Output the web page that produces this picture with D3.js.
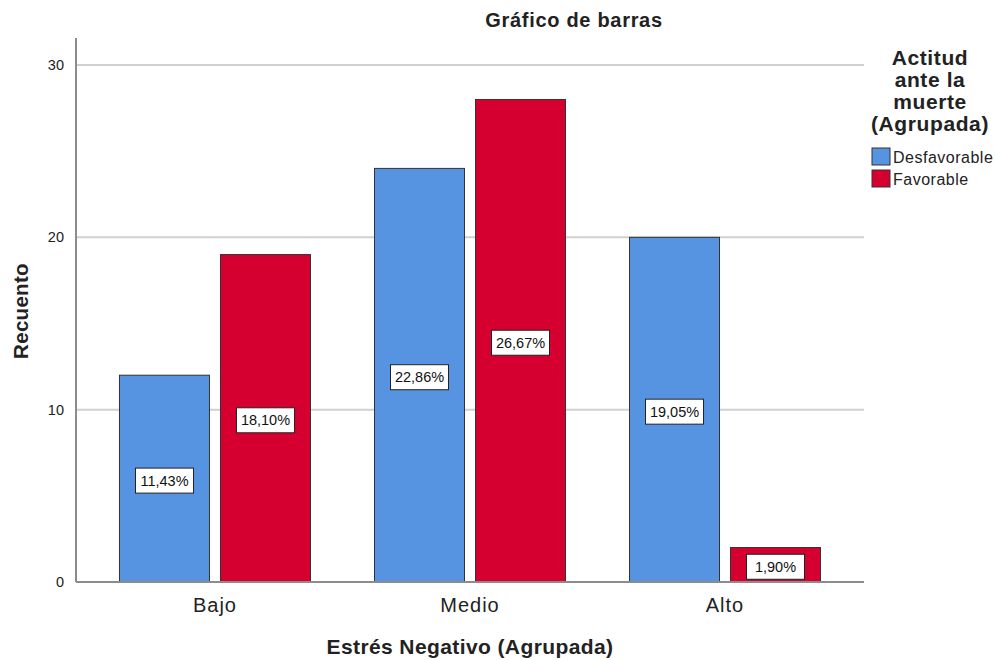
<!DOCTYPE html>
<html>
<head>
<meta charset="utf-8">
<script src="https://cdn.jsdelivr.net/npm/d3@7"></script>
<style>
  body { margin: 0; background: #fff; }
  svg { font-family: "Liberation Sans", Arial, sans-serif; }
</style>
</head>
<body>
<svg width="995" height="660"></svg>
<script>
// data
const categories = ['Bajo', 'Medio', 'Alto']
const groups = ['Desfavorable', 'Favorable']
const desfavorable = [12, 24, 20]
const favorable = [19, 28, 2]
const pctDesfavorable = ['11,43%', '22,86%', '19,05%']
const pctFavorable = ['18,10%', '26,67%', '1,90%']
const yTicks = [0, 10, 20, 30]

const colors = { Desfavorable: '#5694e2', Favorable: '#d5002f' }

const svg = d3.select('svg')
const plotLeft = 76, plotRight = 864, plotTop = 38, plotBottom = 582

const x = d3.scalePoint().domain(categories).range([plotLeft, plotRight]).padding(0.545)
const xs = d3.scaleBand().domain(groups).range([-95.5, 95.5]).paddingInner(0.109)
const y = d3.scaleLinear().domain([0, 30]).range([plotBottom, 65])

const rows = []
categories.forEach((c, i) => {
    rows.push({ cat: c, grp: 'Desfavorable', v: desfavorable[i], pct: pctDesfavorable[i] })
    rows.push({ cat: c, grp: 'Favorable', v: favorable[i], pct: pctFavorable[i] })
})

// grid lines
svg.append('g')
    .selectAll('line')
    .data(yTicks.filter(d => d > 0))
    .enter().append('line')
    .attr('x1', plotLeft).attr('x2', plotRight)
    .attr('y1', d => y(d)).attr('y2', d => y(d))
    .attr('stroke', '#d0d0d0').attr('stroke-width', 2)

// y axis
const yAxis = svg.append('g')
    .attr('transform', `translate(${plotLeft},0)`)
    .call(d3.axisLeft(y).tickValues(yTicks).tickSize(0).tickPadding(12))
yAxis.select('.domain').remove()
yAxis.selectAll('text').attr('font-size', 14.5).attr('fill', '#222').attr('font-family', 'Liberation Sans')
svg.append('line')
    .attr('x1', plotLeft).attr('x2', plotLeft).attr('y1', plotTop).attr('y2', plotBottom)
    .attr('stroke', '#8c8c8c').attr('stroke-width', 2)

// bars
svg.append('g')
    .selectAll('rect')
    .data(rows)
    .enter().append('rect')
    .attr('x', d => x(d.cat) + xs(d.grp))
    .attr('y', d => y(d.v))
    .attr('width', xs.bandwidth())
    .attr('height', d => y(0) - y(d.v))
    .attr('fill', d => colors[d.grp])
    .attr('stroke', '#333')
    .attr('stroke-width', 1)

// x axis line
svg.append('line')
    .attr('x1', plotLeft).attr('x2', plotRight).attr('y1', plotBottom).attr('y2', plotBottom)
    .attr('stroke', '#8c8c8c').attr('stroke-width', 2)

// percentage labels
const lab = svg.append('g')
    .selectAll('g')
    .data(rows)
    .enter().append('g')
    .attr('transform', d => `translate(${x(d.cat) + xs(d.grp) + xs.bandwidth() / 2},${y(d.v / 2) + 2})`)
lab.append('rect')
    .attr('x', -29).attr('y', -12.5).attr('width', 58).attr('height', 25)
    .attr('fill', '#fff').attr('stroke', '#222').attr('stroke-width', 1)
lab.append('text')
    .attr('text-anchor', 'middle').attr('dy', '0.35em')
    .attr('font-size', 14.5).attr('fill', '#111')
    .text(d => d.pct)

// category labels
svg.append('g')
    .selectAll('text')
    .data(categories)
    .enter().append('text')
    .attr('x', d => x(d)).attr('y', 612)
    .attr('text-anchor', 'middle').attr('font-size', 20).attr('letter-spacing', 1).attr('fill', '#222')
    .text(d => d)

// titles
svg.append('text')
    .attr('x', 574).attr('y', 27)
    .attr('text-anchor', 'middle').attr('font-size', 20).attr('letter-spacing', 0.7)
    .attr('font-weight', 'bold').attr('fill', '#222')
    .text('Gráfico de barras')
svg.append('text')
    .attr('x', 470).attr('y', 654)
    .attr('text-anchor', 'middle').attr('font-size', 21).attr('letter-spacing', 0.4)
    .attr('font-weight', 'bold').attr('fill', '#222')
    .text('Estrés Negativo (Agrupada)')
svg.append('text')
    .attr('transform', 'translate(28,311) rotate(-90)')
    .attr('text-anchor', 'middle').attr('font-size', 20.5).attr('letter-spacing', 0.3)
    .attr('font-weight', 'bold').attr('fill', '#222')
    .text('Recuento')

// legend
const legTitle = ['Actitud', 'ante la', 'muerte', '(Agrupada)']
svg.append('g')
    .selectAll('text')
    .data(legTitle)
    .enter().append('text')
    .attr('x', 930).attr('y', (d, i) => 65 + i * 22)
    .attr('text-anchor', 'middle').attr('font-size', 21).attr('letter-spacing', 0.6)
    .attr('font-weight', 'bold').attr('fill', '#222')
    .text(d => d)

const leg = svg.append('g')
    .selectAll('g')
    .data(groups)
    .enter().append('g')
    .attr('transform', (d, i) => `translate(872,${148 + i * 22})`)
leg.append('rect')
    .attr('width', 18).attr('height', 17)
    .attr('fill', d => colors[d]).attr('stroke', '#333')
leg.append('text')
    .attr('x', 21).attr('y', 15)
    .attr('font-size', 16).attr('letter-spacing', 0.5).attr('fill', '#222')
    .text(d => d)
</script>
</body>
</html>
